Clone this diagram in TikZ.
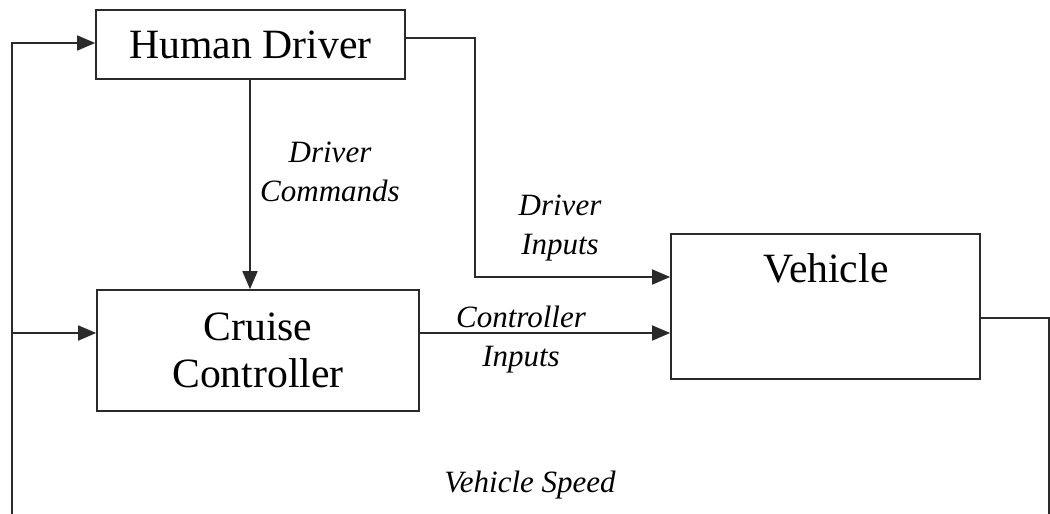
\documentclass[tikz,border=0pt]{standalone}
\usepackage{fontspec}
\setmainfont{Liberation Serif}
\usetikzlibrary{arrows.meta,calc}
\definecolor{linegray}{HTML}{2A2A2A}
\begin{document}
\begin{tikzpicture}[x=1pt,y=-1pt,
  block/.style={draw=linegray, line width=1.7pt, rectangle, inner sep=0pt,
    align=center, font=\fontsize{41.7}{47}\selectfont},
  sig/.style={align=center, font=\fontsize{31}{39}\selectfont\itshape},
  wire/.style={draw=linegray, line width=1.7pt},
  flow/.style={wire, -{Triangle[length=18pt,width=15pt]}}]
\useasboundingbox (0,0) rectangle (1050,514);
\clip (0,0) rectangle (1050,514);

% blocks
\node[block, minimum width=309pt, minimum height=69pt] (hd) at (250.5,44.5) {Human Driver};
\node[block, minimum width=322pt, minimum height=121pt] (cc) at (258,350.5) {Cruise\\Controller};
\node[block, minimum width=309pt, minimum height=145pt] (ve) at (825.5,306.5) {};
\node[font=\fontsize{41.7}{47}\selectfont] (vetext) at (826,268) {Vehicle};

% signal labels
\node[sig] (lcmd) at (330,172) {Driver\\Commands};
\node[sig] (ldin) at (560,228) {Driver\\Inputs};
\node[sig] (lcin) at (521,340) {Controller\\Inputs};
\node[sig] (lspd) at (530,485) {Vehicle Speed};

% corner points of the routed wires
\coordinate (hdturn) at (475,38);
\coordinate (outR) at (1049,318);
\coordinate (loopR) at (1049,530);
\coordinate (loopL) at (12,530);
\coordinate (tapCC) at (12,333);
\coordinate (topL) at (12,43);

% driver commands into the controller
\draw[flow] (hd.south -| 250,0) -- (cc.north -| 250,0);
% driver inputs to the vehicle
\draw[flow] ([yshift=6.5pt]hd.east) -- (hdturn) |- ([yshift=29.5pt]ve.west);
% controller inputs to the vehicle
\draw[flow] ([yshift=17.5pt]cc.east) -- ([yshift=-26.5pt]ve.west);
% vehicle speed fed back to driver and controller
\draw[wire] ([yshift=-11.5pt]ve.east) -- (outR) -- (loopR) -- (loopL) -- (tapCC);
\draw[flow] (tapCC) -- (topL) -- ([yshift=1.5pt]hd.west);
\draw[flow] (tapCC) -- ([yshift=17.5pt]cc.west);
\end{tikzpicture}
\end{document}
